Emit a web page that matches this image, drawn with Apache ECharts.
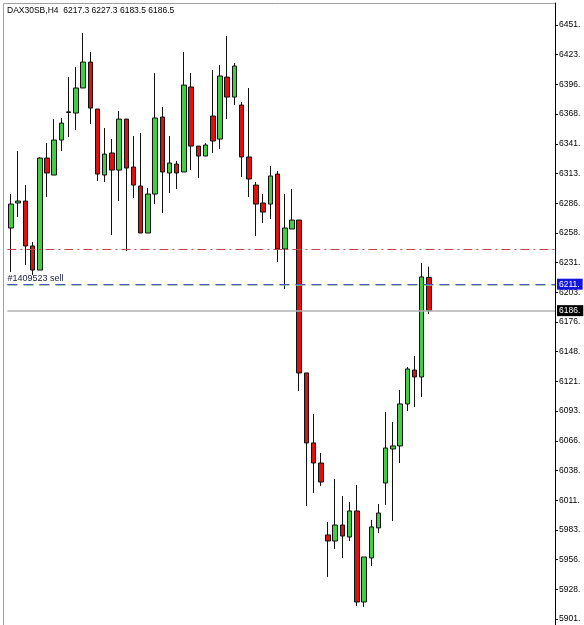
<!DOCTYPE html>
<html><head><meta charset="utf-8">
<script src="https://cdn.jsdelivr.net/npm/echarts@6/dist/echarts.min.js"></script>
<style>html,body{margin:0;padding:0;background:#fff}#c{width:584px;height:625px}</style>
</head><body><div id="c"></div>
<script>
const symbolName = 'DAX30SB,H4';
const slotCount = 76;
const opens = [6263.0, 6286.2, 6288.0, 6246.4, 6224.1, 6327.8, 6312.1, 6344.5, 6370.0, 6369.5,
  6392.7, 6416.7, 6373.2, 6312.1, 6332.5, 6316.7, 6363.9, 6319.5, 6301.9, 6258.4,
  6294.5, 6365.8, 6314.0, 6322.3, 6314.9, 6393.6, 6338.9, 6329.7, 6366.7, 6345.4,
  6402.8, 6384.3, 6376.9, 6328.8, 6302.8, 6286.2, 6285.2, 6313.0, 6243.6, 6262.1,
  6270.4, 6128.8, 6064.0, 6045.4, 5978.8, 5973.2, 5988.0, 5976.9, 6001.0, 5916.7,
  5957.5, 5985.3, 6026.9, 6058.4, 6061.2, 6100.1, 6131.5, 6125.1, 6217.3];
const closes = [6285.2, 6288.0, 6246.4, 6224.1, 6327.8, 6314.0, 6344.5, 6360.2, 6370.6, 6392.7,
  6416.7, 6374.1, 6313.0, 6331.5, 6316.7, 6363.9, 6318.6, 6302.8, 6258.4, 6294.5,
  6364.9, 6314.9, 6323.2, 6314.0, 6395.4, 6338.9, 6329.7, 6339.9, 6343.6, 6403.8,
  6384.3, 6413.0, 6328.8, 6308.4, 6285.2, 6277.8, 6311.2, 6243.6, 6263.0, 6270.4,
  6128.8, 6064.0, 6045.4, 6027.8, 5973.2, 5988.0, 5977.8, 6001.0, 5916.7, 5958.4,
  5986.2, 5999.1, 6059.3, 6061.2, 6100.1, 6132.5, 6125.1, 6217.7, 6186.5];
const lows = [6222.3, 6273.2, 6228.8, 6219.5, 6224.1, 6291.7, 6312.1, 6334.3, 6347.3, 6353.8,
  6392.7, 6359.3, 6306.5, 6305.6, 6256.5, 6288.0, 6241.7, 6290.8, 6258.4, 6258.4,
  6285.2, 6276.9, 6295.4, 6299.1, 6314.9, 6316.7, 6309.3, 6329.7, 6332.5, 6336.2,
  6363.9, 6376.9, 6310.2, 6291.7, 6255.6, 6267.7, 6271.4, 6231.5, 6206.5, 6262.1,
  6112.1, 6005.6, 6017.7, 6024.1, 5939.9, 5965.8, 5957.5, 5973.2, 5913.0, 5912.1,
  5950.1, 5980.6, 6006.6, 5991.7, 6045.4, 6093.6, 6097.3, 6106.5, 6183.5];
const highs = [6294.5, 6334.3, 6302.8, 6250.1, 6328.5, 6341.7, 6363.9, 6364.9, 6402.8, 6412.1,
  6443.6, 6426.0, 6373.2, 6355.6, 6345.4, 6371.4, 6363.9, 6348.2, 6351.0, 6300.1,
  6406.5, 6375.1, 6348.2, 6325.1, 6426.0, 6406.5, 6338.9, 6341.7, 6409.3, 6413.9,
  6440.8, 6415.8, 6379.7, 6392.7, 6305.6, 6294.5, 6320.4, 6315.8, 6294.5, 6299.1,
  6270.4, 6128.8, 6090.8, 6054.7, 5990.8, 6030.6, 6014.9, 6009.3, 6025.1, 5958.4,
  5992.7, 6007.5, 6092.7, 6083.4, 6113.0, 6134.3, 6144.5, 6230.6, 6227.3];
const tickValues = [5901, 5928.5, 5956, 5983.5, 6011, 6038.5, 6066, 6093.5, 6121, 6148.5,
  6176, 6203.5, 6231, 6258.5, 6286, 6313.5, 6341, 6368.5, 6396, 6423.5, 6451];
const tickLabels = ['5901.', '5928.', '5956.', '5983.', '6011.', '6038.', '6066.', '6093.', '6121.', '6148.',
  '6176.', '6203.', '6231.', '6258.', '6286.', '6313.', '6341.', '6368.', '6396.', '6423.', '6451.'];
const orderTicket = '#1409523 sell';
const orderLevel = 6211.0;
const stopLevel = 6210.1;
const redLevel = 6243.6;
const lastIdx = closes.length - 1;
const lastPrice = closes[lastIdx];
const axisMin = 5895.4, axisMax = 6471.4;

const slots = Array.from({length: slotCount}, (_, i) => String(i));
const candleData = opens.map((o, i) => [o, closes[i], lows[i], highs[i]]);
const header = symbolName + '  ' + [opens[lastIdx], highs[lastIdx], lows[lastIdx], closes[lastIdx]].map(v => v.toFixed(1)).join(' ');
const FONT = 'Liberation Sans';

const chart = echarts.init(document.getElementById('c'), null, {renderer: 'canvas'});
chart.setOption({
  animation: false,
  backgroundColor: '#fff',
  title: {text: header, left: 7, top: 6, padding: 0, textStyle: {fontSize: 8.5, fontWeight: 'normal', color: '#000', fontFamily: FONT}},
  graphic: [{type: 'rect', shape: {x: 3.5, y: 3.5, width: 552, height: 640}, style: {fill: 'none', stroke: '#a0a0a0', lineWidth: 1}, silent: true, z: -1}],
  grid: {left: 7.4, right: 29, top: 3, bottom: 0},
  xAxis: {type: 'category', data: slots, boundaryGap: true, show: false},
  yAxis: {
    type: 'value', position: 'right', min: axisMin, max: axisMax, scale: true,
    splitLine: {show: false},
    axisLine: {show: true, lineStyle: {color: '#000', width: 1}},
    axisTick: {show: true, customValues: tickValues, length: 3, lineStyle: {color: '#000'}},
    axisLabel: {show: true, customValues: tickValues, margin: 4, fontSize: 8.5, color: '#000', fontFamily: FONT,
      formatter: v => { const i = tickValues.indexOf(v); return i >= 0 ? tickLabels[i] : ''; }}
  },
  series: [{
    type: 'candlestick',
    data: candleData,
    barWidth: 5,
    itemStyle: {color: '#44cc44', color0: '#e01010', borderColor: '#111', borderColor0: '#111', borderWidth: 1},
    markLine: {
      silent: true, symbol: 'none', animation: false, z: 10,
      data: [
        {yAxis: redLevel, lineStyle: {color: '#c04848', type: [9, 4, 2, 4], width: 1}, label: {show: false}},
        {yAxis: stopLevel, lineStyle: {color: '#80c880', type: [10, 6], width: 1.5}, label: {show: false}},
        {yAxis: orderLevel,
          lineStyle: {color: '#5050c0', type: [10, 6], width: 1.2},
          label: {show: true, position: 'end', distance: 2, formatter: Math.floor(orderLevel) + '.',
            backgroundColor: '#1414e0', color: '#fff', fontSize: 8.5, fontFamily: FONT, padding: [1, 3, 1, 2]}},
        {yAxis: orderLevel, lineStyle: {color: 'rgba(0,0,0,0)', width: 0}, label: {show: true, position: 'insideStartTop', distance: [0, 1],
          formatter: orderTicket, color: '#1a1a40', fontSize: 9, fontFamily: FONT}},
        {yAxis: lastPrice, lineStyle: {color: '#b0b0b0', type: 'solid', width: 1.5},
          label: {show: true, position: 'end', distance: 2, formatter: Math.floor(lastPrice) + '.',
            backgroundColor: '#000', color: '#fff', fontSize: 8.5, fontFamily: FONT, padding: [1, 3, 1, 2]}}
      ]
    }
  }]
});
</script></body></html>
